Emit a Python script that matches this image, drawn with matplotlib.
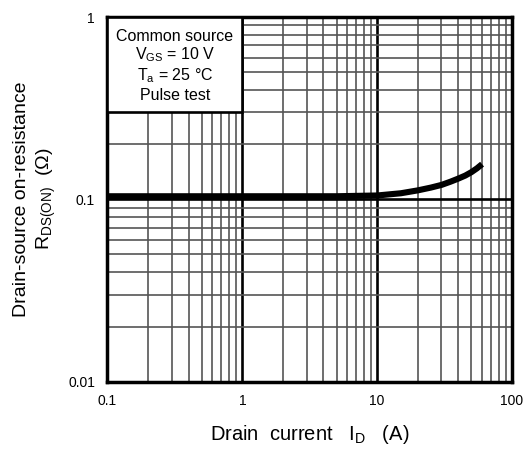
import matplotlib
matplotlib.use("Agg")
import matplotlib.pyplot as plt
from matplotlib.ticker import FixedLocator, FixedFormatter, NullFormatter
from matplotlib.patches import Rectangle

plt.rcParams['font.family'] = ['Liberation Sans', 'DejaVu Sans']
plt.rcParams['mathtext.fontset'] = 'custom'
plt.rcParams['mathtext.rm'] = 'Liberation Sans'
plt.rcParams['mathtext.it'] = 'Liberation Sans:italic'
plt.rcParams['mathtext.default'] = 'regular'

# Data
drain_current = [0.1, 0.2, 0.5, 1, 2, 5, 10, 15, 20, 25, 30, 35, 40, 45, 50, 55, 60]
r_ds_on = [0.104, 0.104, 0.104, 0.104, 0.104, 0.104, 0.105, 0.108, 0.112, 0.116,
           0.120, 0.125, 0.130, 0.135, 0.141, 0.148, 0.156]

x_major = [0.1, 1, 10, 100]
x_major_labels = ['0.1', '1', '10', '100']
y_major = [0.01, 0.1, 1]
y_major_labels = ['0.01', '0.1', '1']

legend_lines = ['Common source', 'V$_{GS}$ = 10 V', 'T$_{a}$ = 25 °C', 'Pulse test']

fig = plt.figure(figsize=(5.3, 4.5), dpi=100)
ax = fig.add_axes([0.2028, 0.152, 0.7632, 0.810])
ax.set_xscale('log')
ax.set_yscale('log')
ax.set_xlim(0.1, 100)
ax.set_ylim(0.01, 1)

x_minor = [m * d for d in (0.1, 1, 10) for m in range(2, 10)]
y_minor = [m * d for d in (0.01, 0.1) for m in range(2, 10)]
ax.xaxis.set_major_locator(FixedLocator(x_major))
ax.xaxis.set_major_formatter(FixedFormatter(x_major_labels))
ax.yaxis.set_major_locator(FixedLocator(y_major))
ax.yaxis.set_major_formatter(FixedFormatter(y_major_labels))
ax.xaxis.set_minor_locator(FixedLocator(x_minor))
ax.yaxis.set_minor_locator(FixedLocator(y_minor))
ax.xaxis.set_minor_formatter(NullFormatter())
ax.yaxis.set_minor_formatter(NullFormatter())

ax.grid(True, which='minor', color='#555555', linewidth=1.2)
ax.grid(True, which='major', color='black', linewidth=1.9)
ax.set_axisbelow(True)
ax.tick_params(which='both', length=0, labelsize=10, pad=9)
for s in ax.spines.values():
    s.set_linewidth(2.5)

ax.plot(drain_current, r_ds_on, color='black', linewidth=4.4, solid_capstyle='butt', zorder=3)

# Legend box (white, covers grid)
rect = Rectangle((0, 0.739), 1/3, 0.261, transform=ax.transAxes,
                 facecolor='white', edgecolor='black', linewidth=1.9, zorder=4)
ax.add_patch(rect)
ys = [0.948, 0.896, 0.838, 0.786]
for t, yy in zip(legend_lines, ys):
    ax.text(0.1667, yy, t, transform=ax.transAxes, ha='center', va='center',
            fontsize=11.5, zorder=5)

ax.set_xlabel('Drain  current   I$_{D}$   (A)', fontsize=14.5, labelpad=11)
fig.text(35.5 / 530, 1 - 199 / 450, 'Drain-source on-resistance\nR$_{DS(ON)}$  (Ω)',
         fontsize=14, rotation=90, ha='center', va='center', linespacing=1.25,
         multialignment='center')

fig.savefig('out.png', dpi=100)
